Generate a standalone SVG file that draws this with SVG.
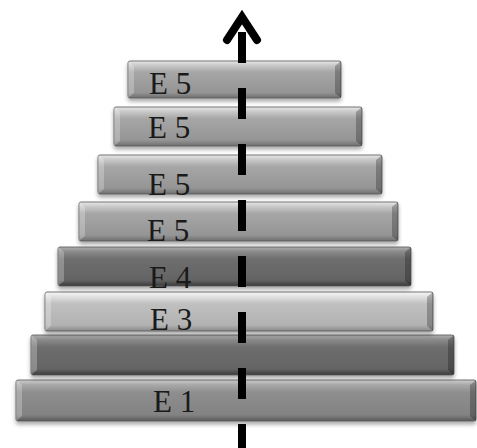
<svg xmlns="http://www.w3.org/2000/svg" width="477" height="448" viewBox="0 0 477 448">
  <defs>
    <linearGradient id="gMid" x1="0" y1="0" x2="0" y2="1">
      <stop offset="0" stop-color="#e8e8e8"/>
      <stop offset="0.12" stop-color="#c8c8c8"/>
      <stop offset="0.3" stop-color="#a6a6a6"/>
      <stop offset="0.85" stop-color="#959595"/>
      <stop offset="1" stop-color="#6e6e6e"/>
    </linearGradient>
    <linearGradient id="gDark" x1="0" y1="0" x2="0" y2="1">
      <stop offset="0" stop-color="#b0b0b0"/>
      <stop offset="0.12" stop-color="#8a8a8a"/>
      <stop offset="0.3" stop-color="#6e6e6e"/>
      <stop offset="0.85" stop-color="#646464"/>
      <stop offset="1" stop-color="#3a3a3a"/>
    </linearGradient>
    <linearGradient id="gLight" x1="0" y1="0" x2="0" y2="1">
      <stop offset="0" stop-color="#f8f8f8"/>
      <stop offset="0.12" stop-color="#e0e0e0"/>
      <stop offset="0.3" stop-color="#c0c0c0"/>
      <stop offset="0.85" stop-color="#b2b2b2"/>
      <stop offset="1" stop-color="#8a8a8a"/>
    </linearGradient>
    <linearGradient id="gBase" x1="0" y1="0" x2="0" y2="1">
      <stop offset="0" stop-color="#cfcfcf"/>
      <stop offset="0.12" stop-color="#a8a8a8"/>
      <stop offset="0.3" stop-color="#8e8e8e"/>
      <stop offset="0.85" stop-color="#838383"/>
      <stop offset="1" stop-color="#5a5a5a"/>
    </linearGradient>
    <filter id="sh" x="-5%" y="-20%" width="110%" height="150%">
      <feGaussianBlur in="SourceAlpha" stdDeviation="2"/>
      <feOffset dy="3"/>
      <feComponentTransfer><feFuncA type="linear" slope="0.35"/></feComponentTransfer>
      <feMerge><feMergeNode/><feMergeNode in="SourceGraphic"/></feMerge>
    </filter>
  </defs>
  <style>
    .bar { stroke: #555; stroke-width: 0.8; filter: url(#sh); }
    .bev { fill: #ffffff; opacity: 0.25; }
    .bevd { fill: #000000; opacity: 0.25; }
    .lbl { font-family: "Liberation Serif", "Times New Roman", serif; font-size: 31px; fill: #1a1a1a; }
    .arrow { stroke: #000; fill: none; stroke-width: 8; }
  </style>

  <g id="bar8">
    <rect class="bar" x="16" y="380" width="460" height="41" rx="2" fill="url(#gBase)"/>
    <polygon class="bev" points="16,380 22,385 22,416 16,421"/>
    <polygon class="bevd" points="476,380 470,385 470,416 476,421"/>
    <text class="lbl" x="153" y="412">E 1</text>
  </g>
  <g id="bar7">
    <rect class="bar" x="31" y="335" width="423" height="40" rx="2" fill="url(#gDark)"/>
    <polygon class="bev" points="31,335 37,340 37,370 31,375"/>
    <polygon class="bevd" points="454,335 448,340 448,370 454,375"/>
  </g>
  <g id="bar6">
    <rect class="bar" x="45" y="292" width="388" height="39" rx="2" fill="url(#gLight)"/>
    <polygon class="bev" points="45,292 51,297 51,326 45,331"/>
    <polygon class="bevd" points="433,292 427,297 427,326 433,331"/>
    <text class="lbl" x="150" y="330">E 3</text>
  </g>
  <g id="bar5">
    <rect class="bar" x="58" y="247" width="353" height="39" rx="2" fill="url(#gDark)"/>
    <polygon class="bev" points="58,247 64,252 64,281 58,286"/>
    <polygon class="bevd" points="411,247 405,252 405,281 411,286"/>
    <text class="lbl" x="149" y="288">E 4</text>
  </g>
  <g id="bar4">
    <rect class="bar" x="79" y="202" width="319" height="39" rx="2" fill="url(#gMid)"/>
    <polygon class="bev" points="79,202 85,207 85,236 79,241"/>
    <polygon class="bevd" points="398,202 392,207 392,236 398,241"/>
    <text class="lbl" x="147" y="241">E 5</text>
  </g>
  <g id="bar3">
    <rect class="bar" x="98" y="155" width="284" height="39" rx="2" fill="url(#gMid)"/>
    <polygon class="bev" points="98,155 104,160 104,189 98,194"/>
    <polygon class="bevd" points="382,155 376,160 376,189 382,194"/>
    <text class="lbl" x="148" y="195">E 5</text>
  </g>
  <g id="bar2">
    <rect class="bar" x="114" y="107" width="248" height="39" rx="2" fill="url(#gMid)"/>
    <polygon class="bev" points="114,107 120,112 120,141 114,146"/>
    <polygon class="bevd" points="362,107 356,112 356,141 362,146"/>
    <text class="lbl" x="148" y="138">E 5</text>
  </g>
  <g id="bar1">
    <rect class="bar" x="128" y="61" width="213" height="37" rx="2" fill="url(#gMid)"/>
    <polygon class="bev" points="128,61 134,66 134,93 128,98"/>
    <polygon class="bevd" points="341,61 335,66 335,93 341,98"/>
    <text class="lbl" x="149" y="94">E 5</text>
  </g>

  <g id="connectors">
    <line class="arrow" x1="242" y1="32" x2="242" y2="448" stroke-dasharray="31 25"/>
    <polyline class="arrow" points="227,40 242,17 257,40" stroke-linejoin="miter" stroke-linecap="round"/>
  </g>
</svg>
